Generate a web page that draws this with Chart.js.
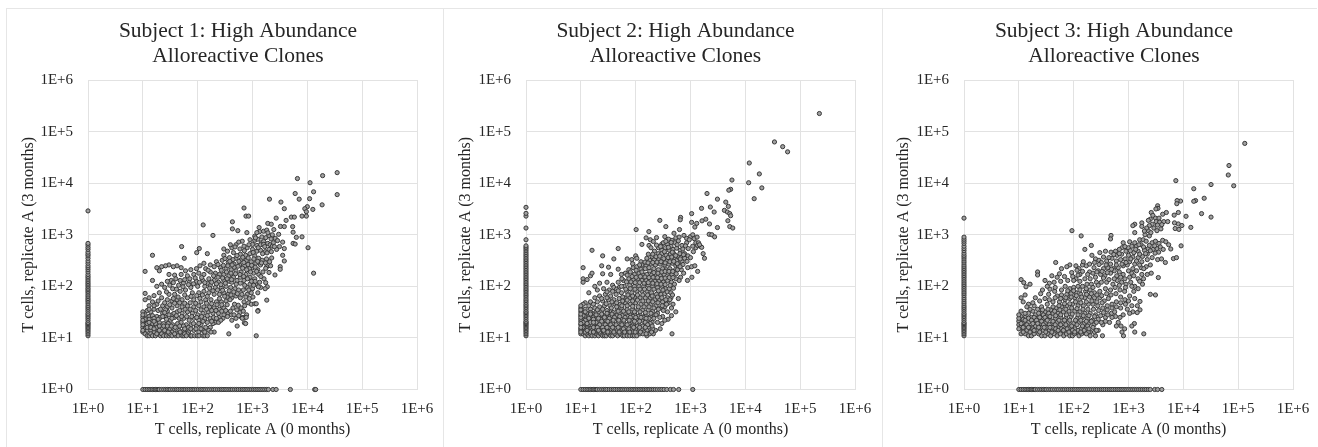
<!DOCTYPE html>
<html>
<head>
<meta charset="utf-8">
<title>High Abundance Alloreactive Clones</title>
<script src="https://cdn.jsdelivr.net/npm/chart.js@4"></script>
<style>
    html, body { margin: 0; padding: 0; background: #fff; overflow: hidden; }
    .panel { position: absolute; top: 8px; height: 439px; box-sizing: border-box; border-left: 1px solid #e6e6e6; border-top: 1px solid #e6e6e6; }
    .panel canvas { position: absolute; left: -1px; top: -1px; }
</style>
</head>
<body>
<div class="panel" style="left:6px;width:437px"><canvas id="subject1" width="450" height="439"></canvas></div>
<div class="panel" style="left:443px;width:439px"><canvas id="subject2" width="450" height="439"></canvas></div>
<div class="panel" style="left:882px;width:435px"><canvas id="subject3" width="450" height="439"></canvas></div>
<script>
const tickValues = [1, 10, 100, 1000, 10000, 100000, 1000000];
const tickLabels = ["1E+0", "1E+1", "1E+2", "1E+3", "1E+4", "1E+5", "1E+6"];
const subjectTitles = ["Subject 1: High Abundance", "Subject 2: High Abundance", "Subject 3: High Abundance"];
const titleSecondLine = "Alloreactive Clones";
const xAxisTitle = "T cells, replicate A (0 months)";
const yAxisTitle = "T cells, replicate A (3 months)";

// clones seen only at 0 months, they sit on the y = 1 line
const subject1Row = [10,11,12,13,14,15,16,17,18,19,20,22,24,26,28,30,32,35,38,41,44,48,52,56,60,65,70,76,82,88,95,103,112,120,130,140,152,165,180,195,210,230,250,270,290,315,340,370,400,430,470,510,550,600,650,700,760,820,890,960,1040,1120,1210,1310,1420,1540,1670,1810,1950,2350,2700,4900,13600,14200];
const subject2Row = [10,11,12,13,14,15,16,17,18,19,20,22,24,26,28,30,33,36,39,42,46,50,54,58,63,68,74,80,86,93,100,108,116,125,135,145,156,168,180,195,210,228,250,275,300,330,370,430,490,610,1100];
const subject3Row = [10,11,12,13,14,15,16,17,18,19,20,22,24,26,28,30,32,35,38,41,45,49,53,58,63,68,74,80,87,94,102,110,120,130,141,153,166,180,195,212,230,250,270,295,320,345,375,410,445,480,520,570,620,670,730,790,860,930,1010,1100,1190,1290,1400,1520,1650,1790,1950,2100,2300,2500,3000,3400,4050];

// clones seen only at 3 months, they sit on the x = 1 line
const subject1Col = [11,12,13,14,15,16,17,18,19,20,22,24,26,28,30,33,36,39,42,46,50,54,58,63,68,74,80,86,92,100,107,115,124,134,145,156,170,190,210,230,250,280,310,350,390,420,460,520,570,630,680,2900];
const subject2Col = [11,12,13,14,15,16,17,18,19,20,21,23,25,27,29,31,33,36,39,42,45,49,53,57,62,67,72,78,84,90,97,105,113,122,132,142,153,165,178,192,207,224,242,261,282,305,330,355,385,415,450,490,530,570,610,800,1350,2300,2600,3400];
const subject3Col = [11,12,13,14,15,16,17,18,19,20,22,24,26,28,30,33,36,39,42,46,50,55,60,66,72,78,85,92,100,108,117,127,138,150,162,176,190,205,222,240,260,285,310,340,370,400,440,490,540,600,680,750,820,900,2100];

// clones seen at both time points [0 months, 3 months]
const subject1Both = [
    [35000,16000],[19000,14000],[6600,12300],[11200,10200],[13000,6800],[6000,6300],[7100,4900],[11000,5000],[35000,6000],[18600,3800],
    [2040,4900],[3300,4300],[3800,3200],[10000,3500],[9000,3200],[12600,3100],[9600,2800],[8000,2300],[9600,2300],[700,3300],
    [760,2300],[850,2300],[2700,2100],[5100,2200],[5800,2200],[4100,1900],[1900,1660],[2200,1600],[126,1550],[430,1780],
    [190,970],[430,1300],[540,1200],[790,1100],[10300,560],[13000,180],[15,400],[51,590],[11,195],[57,350],
    [107,540],[96,450],[150,430],[1170,11],[370,12],[525,17],[710,19.6],[710,25],[630,25],[1260,34],[1820,54],
    [1100,940],[1320,1380],[1350,1150],[1200,1100],[1590,1170],[1820,1230],[2450,1260],[3000,1020],[3240,1450],[3800,1440],[5400,1440],
    [5500,1120],[6300,890],[8000,910],[3550,720],[5500,680],[6000,660],[3100,590],[3800,540],[2750,520],[2240,355],
    [3550,400],[3800,310],[3200,240],[3200,214],[2570,166],[1820,240],[2140,250],[1740,223],[2000,186],[1620,140],
    [1740,118],[1860,98],[1100,780],[1250,820],[1450,700],[1600,740],[1750,880],[2000,960],[2300,1000],[2600,850],
    [1000,650],[1200,620],[1400,640],[1600,650],[1900,680],[2100,640],[2400,700],[900,800],[800,560],[1000,520],
    [1200,480],[1400,500],[1700,470],[2000,520],[2300,600],[650,750],[560,720],[500,640],[700,600],[420,560],
    [300,530],[350,480],[450,450],[600,420],[750,400],[900,430],[1100,390],[1300,350],[1500,320],[1800,340],
    [300,400],[380,360],[500,350],[620,330],[780,320],[950,300],[1150,280],[1400,260],[1000,230],[1250,210],
    [280,320],[220,300],[360,290],[460,270],[580,260],[720,250],[880,220],[1050,180],[1300,170],[1550,190],
    [170,260],[200,240],[260,230],[330,220],[410,210],[500,200],[620,190],[760,170],[900,150],[1100,140],
    [1350,120],[1150,110],[1400,95],[1700,90],[900,110],[1000,90],[1250,75],[700,130],[800,95],[600,150],
    [130,280],[110,250],[95,220],[75,210],[60,200],[50,230],[42,250],[36,240],[30,260],[26,250],[22,240],[18,230],[20,200],
    [140,220],[170,190],[210,180],[250,170],[300,170],[370,160],[450,150],[520,130],[380,125],[300,130],
    [130,170],[105,180],[85,170],[65,160],[50,170],[38,165],[30,170],[33,130],[40,140],[28,125],[22,110],[18,100],[15,130],[25,95],[20,75],[16,66],[13,60],[11,73],[11,55],[13,42],[15,50],
    [240,120],[200,130],[160,140],[125,130],[95,125],[70,120],[55,115],[45,105],[35,90],[75,95],[100,100],[135,100],[170,105],[210,95],[270,95],[330,100],[400,95],[480,90],[560,85],[680,85],[800,70],[950,75],
    [30,70],[38,70],[48,80],[60,85],[80,75],[105,75],[130,80],[160,75],[200,70],[250,70],[300,75],[360,70],[420,60],[500,65],[600,60],[700,50],[850,48],[950,45],[1100,46],[1170,46],[1250,33],
    [22,60],[28,55],[34,52],[42,55],[52,55],[65,60],[85,55],[110,58],[140,55],[175,55],[220,50],[270,50],[330,52],[390,55],[470,45],[550,43],[620,38],[720,42],[780,28],
    [18,45],[23,42],[28,40],[34,38],[42,42],[52,40],[65,42],[85,40],[105,42],[130,40],[165,40],[200,38],[250,36],[300,38],[360,30],[420,22],[410,28],[650,24],[750,19],[770,25],[500,24],
    [12,34],[14,32],[16,36],[19,34],[23,30],[28,33],[34,28],[42,32],[52,30],[65,32],[80,30],[100,28],[125,30],[155,32],[190,30],[240,30],[300,28],[350,26],
    [10,32],[11,28],[13,26],[15,27],[18,26],[21,25],[26,25],[32,22],[38,25],[46,24],[56,24],[70,22],[85,24],[105,22],[135,24],[170,24],[210,20],[240,20],[190,19],[170,16],
    [10,25],[12,22],[14,21],[17,21],[20,20],[24,19],[29,19],[35,18],[43,19],[50,20],[62,18],[76,18],[95,17],[115,18],[140,16],[160,14],[200,13],
    [10,20],[11,18],[13,17],[15,17],[18,16],[22,15],[26,15],[31,15],[37,14],[46,14],[56,14],[68,13],[85,14],[105,13],[125,14],
    [10,16],[11,15],[12,14],[14,14],[16,13],[19,13],[23,13],[28,12],[34,13],[42,12],[52,12],[65,12],
    [10,13],[11,12],[12,11],[13,11],[14,12],[15,11],[17,11],[18,12],[21,11],[22,12],[24,11],[27,11],[30,11],[31,12],[34,11],[40,11],[44,11],[52,11],[56,11],[58,12],[62,11],[74,11],[78,11],[88,11],[98,11],[106,11],[125,11],[135,11],[150,11],
    [1130,870],[1480,905],[1670,590],[1910,1090],[2180,830],[2510,590],[2860,770],[1030,455],[1270,560],[1530,430],[1840,445],[2210,470],[860,640],[710,490],[590,530],[480,580],[395,640],[520,395],[665,365],[835,355],
    [1060,340],[1240,305],[1460,285],[1720,285],[2050,300],[440,330],[565,305],[695,290],[830,265],[965,255],[1120,235],[315,345],[385,305],[465,235],[545,245],[660,225],[780,210],[920,190],[1190,195],[1420,155],
    [235,265],[295,255],[355,250],[425,260],[270,205],[335,190],[405,180],[490,175],[590,170],[690,155],[810,140],[960,125],[1120,125],[1280,98],[1050,105],[855,85],[720,105],[600,115],[505,110],[420,120],
    [155,205],[195,160],[235,150],[285,145],[345,140],[415,135],[180,120],[220,112],[265,108],[320,115],[375,82],[455,78],[530,72],[640,70],[755,62],[880,58],[1020,62],[150,115],[118,148],[90,145],
    [72,140],[58,135],[48,130],[36,118],[31,105],[27,78],[41,88],[54,98],[68,108],[84,112],[108,120],[135,118],[165,92],[190,82],[230,85],[285,84],[345,62],[405,68],[250,58],[310,64],
    [150,64],[122,68],[96,66],[76,64],[58,68],[44,62],[36,58],[25,48],[19,52],[16,42],[13,36],[21,36],[26,35],[31,44],[38,47],[47,48],[58,47],[73,48],[92,47],[115,50],
    [145,47],[180,46],[225,44],[275,44],[345,44],[440,38],[520,35],[590,31],[680,33],[115,35],[92,34],[73,36],[59,36],[47,34],[37,30],[30,28],[25,31],[145,36],[180,34],[215,34],
    [275,33],[325,34],[395,33],[460,28],[560,27],[290,24],[245,25],[195,25],[150,27],[118,26],[96,25],[78,26],[63,26],[51,26],[41,27],[34,24],[27,23],[23,26],[19,23],[16,24],
    [13,23],[11,23],[12,19],[15,19],[17,19],[20,17],[24,17],[28,17],[33,17],[39,16],[47,17],[55,17],[68,16],[84,19],[105,19],[125,21],[150,20],[180,21],[220,24],[265,22],
    [12,16],[14,16],[16,15],[20,14],[25,14],[29,13],[38,12],[48,13],[58,15],[75,15],[93,15],[115,15],[135,13],[175,13],[10,22],[10,18],[10,14],[10,28],[13,20],[16,21]
];
const subject2Both = [
    [224000,224000],[34000,63000],[48000,51000],[59000,40500],[11800,24600],[18000,15100],[20000,8100],[11500,10200],[14500,5000],[5700,11500],
    [5400,7600],[5000,7300],[2000,6300],[3100,4900],[4400,4300],[4900,3550],[2300,3450],[1590,3250],[2700,2760],[4150,2970],
    [4700,2760],[5200,2570],[1050,2570],[5400,2340],[660,2170],[650,1950],[276,1900],[4800,1870],[1900,2000],[1620,1860],
    [2220,1620],[1050,1740],[1300,1660],[1200,1410],[355,1440],[5200,1440],[5900,1350],[3100,1380],[102,1260],[174,1150],
    [630,1260],[500,1070],[2190,1020],[2450,1000],[2750,910],[16,500],[48,540],[25,390],[11,230],[11,140],[11,120],
    [15,160],[16,180],[13,135],[14,75],[24,250],[25,175],[32,235],[35,170],[40,340],[48,215],[70,340],[85,330],[100,390],
    [130,650],[155,870],[185,800],[210,740],[240,880],[175,620],[190,560],[300,660],[260,560],[340,920],[400,820],[460,780],[540,870],[620,900],[760,970],[850,850],[1000,920],
    [320,700],[380,650],[440,600],[520,700],[600,760],[700,620],[850,700],[950,800],[1100,1000],[1250,700],[1400,700],[1500,600],[1250,560],[1600,570],
    [300,500],[350,560],[410,500],[480,520],[560,550],[650,500],[780,430],[900,390],[1000,360],[1700,430],[1800,350],[1100,600],[1350,620],
    [220,480],[260,430],[300,430],[360,400],[430,420],[500,430],[590,380],[680,370],[780,350],[170,420],[200,380],[125,300],[105,350],
    [180,320],[220,330],[260,340],[310,300],[370,320],[440,330],[520,350],[620,300],[700,300],[890,230],[1050,240],[1200,250],[1350,195],[1060,150],[880,130],
    [130,260],[155,250],[190,270],[230,260],[280,270],[340,260],[400,270],[470,280],[540,250],[600,250],[680,210],[750,180],
    [75,210],[90,230],[105,240],[125,215],[150,220],[180,200],[215,220],[260,210],[310,220],[360,210],[420,220],[500,200],[580,210],[660,150],[620,130],
    [55,170],[65,180],[80,190],[95,170],[115,180],[135,170],[160,170],[195,165],[235,170],[280,160],[330,170],[390,180],[460,170],[540,140],
    [22,115],[30,120],[38,105],[48,120],[60,130],[75,140],[90,135],[110,140],[130,130],[155,130],[185,135],[225,125],[270,130],[320,120],[380,130],[450,120],[510,110],
    [18,100],[20,85],[26,90],[33,85],[40,95],[50,95],[62,100],[78,105],[95,100],[115,100],[140,100],[170,105],[205,100],[250,95],[300,100],[350,90],[410,90],[440,60],
    [15,50],[12,48],[18,60],[22,65],[28,70],[35,65],[44,70],[55,75],[68,80],[85,75],[105,80],[130,80],[160,80],[195,75],[240,70],[290,70],[340,72],[380,60],
    [11,45],[14,42],[17,45],[20,50],[25,52],[32,55],[40,55],[50,58],[62,60],[78,60],[95,62],[120,60],[150,60],[185,60],[225,55],[270,55],[310,50],[420,55],[480,45],[390,47],[340,40],[600,58],
    [10,38],[12,36],[15,36],[18,38],[22,40],[27,42],[34,42],[42,45],[52,45],[65,48],[80,45],[100,48],[125,45],[155,45],[190,45],[235,42],[280,38],[450,38],[380,32],[540,32],
    [10,32],[11,30],[13,30],[16,30],[19,32],[24,33],[30,34],[36,33],[46,36],[56,38],[70,36],[88,36],[110,36],[135,35],[170,35],[205,33],[250,30],[310,26],
    [10,27],[12,26],[14,26],[17,25],[21,27],[26,27],[32,27],[40,28],[50,30],[62,30],[78,29],[96,29],[120,28],[150,28],[185,26],[220,27],[300,19],[390,23],[340,22],[450,27],
    [11,24],[13,22],[15,22],[18,21],[23,23],[29,22],[35,23],[44,24],[55,24],[68,24],[85,23],[105,23],[130,22],[165,22],[200,20],[250,20],
    [10,21],[12,19],[14,18],[16,18],[20,19],[25,19],[31,19],[38,19],[48,20],[60,20],[75,19],[92,19],[115,18],[145,18],[170,16],[230,14],[280,15],[190,13],
    [10,18],[11,17],[13,16],[15,15],[18,16],[22,16],[27,16],[33,16],[42,16],[52,16],[65,16],[82,15],[100,15],[130,15],[160,14],[205,15],
    [10,15],[11,14],[12,14],[14,13],[16,14],[19,14],[24,14],[29,14],[36,14],[45,13],[56,14],[70,13],[88,13],[110,13],[140,13],[180,12],[210,12],
    [10,12],[11,12],[12,11],[13,12],[14,11],[15,12],[16,11],[18,11],[19,12],[21,11],[23,12],[25,11],[27,11],[29,11],[32,12],[35,11],[38,11],[42,12],[47,11],[52,12],[58,11],[62,11],[70,11],[78,11],[88,11],[95,11],[105,11],[120,12],[135,12],[160,11],[460,12],
    [355,745],[445,710],[570,640],[725,530],[810,610],[1170,840],[1320,900],[1460,640],[1130,470],[910,540],[240,630],[205,420],[285,590],[335,470],[395,570],[465,460],[535,395],[640,430],[745,410],[865,305],
    [160,350],[235,375],[275,385],[325,345],[390,360],[455,370],[555,315],[650,340],[730,265],[148,295],[118,260],[168,285],[205,290],[245,295],[290,300],[345,285],[420,300],[495,305],[575,275],[645,240],
    [88,275],[102,205],[130,190],[175,230],[215,185],[255,180],[300,190],[345,195],[405,195],[475,195],[550,175],[70,165],[86,155],[102,150],[122,155],[148,152],[175,148],[208,150],[250,148],[295,142],
    [345,145],[410,148],[480,148],[56,140],[68,122],[82,122],[98,118],[118,118],[142,115],[170,118],[205,115],[245,112],[290,110],[345,108],[425,105],[490,92],[45,88],[55,100],[66,88],[80,90],
    [97,88],[120,88],[145,88],[175,90],[215,88],[260,82],[315,85],[375,78],[440,75],[30,78],[38,80],[48,82],[58,62],[72,68],[88,65],[108,68],[135,68],[165,68],[200,65],[250,62],
    [300,60],[355,55],[470,68],[24,58],[30,60],[37,50],[45,48],[58,52],[70,54],[88,52],[108,54],[135,52],[170,52],[205,50],[255,48],[305,42],[365,45],[29,46],[36,38],[45,40],[56,42],
    [70,42],[88,41],[112,40],[142,40],[175,40],[215,38],[260,36],[320,34],[15,31],[20,35],[25,36],[31,30],[39,31],[48,33],[60,33],[75,32],[95,32],[120,32],[150,31],[190,30],[235,28],[275,25],
    [12,32],[15,29],[19,28],[24,29],[30,30],[37,29],[45,27],[57,27],[72,26],[90,26],[112,26],[140,25],[175,24],[215,24],[11,27],[14,24],[17,23],[21,24],[27,25],[33,24],[41,25],[51,26],[64,25],[80,25],
    [100,25],[125,25],[155,24],[12,22],[15,20],[19,20],[24,21],[31,21],[39,22],[49,22],[61,22],[76,22],[95,21],[118,21],[150,20],[185,19],[11,20],[13,19],[17,20],[22,18],[28,18],[35,18],[44,18],[56,18],
    [70,18],[88,17],[108,17],[135,17],[165,18],[11,16],[13,15],[17,16],[20,16],[25,16],[30,16],[38,16],[48,16],[60,15],[75,15],[92,16],[118,16],[150,16],[200,17],[10,14],[12,13],[15,13],[18,13],[22,13],[27,13],
    [33,13],[40,13],[50,13],[63,13],[78,13],[98,13],[122,13],[155,12],[195,13],[13,14],[17,13],[21,14],[26,14],[31,13],[10,23],[10,25],[10,29],[10,35],[10,42],[10,19],[10,16],[10,13]
];
const subject3Both = [
    [132000,59000],[68000,22000],[66000,14400],[83000,8900],[32000,9400],[7300,11200],[15500,7800],[24000,5100],[16700,4600],[15500,4450],
    [8900,4500],[7700,4600],[7600,4000],[21500,2570],[32000,2200],[11200,2280],[13700,1390],[8100,2700],[6800,2400],[6900,1700],
    [8100,1620],[9400,1510],[7100,1320],[8300,1270],[9100,610],[6600,345],[7500,360],[93,1200],[137,950],[480,970],
    [470,830],[3400,3650],[3450,3250],[3160,3160],[1900,12],[1300,13],[810,11],[850,15],[760,13],[335,11],[250,11],
    [3100,68],[2500,70],[3500,148],[1280,19],[1150,17],[1620,35],[1440,31],[1620,51],[47,290],
    [11,135],[12.3,118],[13.5,98],[16,110],[22,190],[22,166],[11,60],[13,68],[12,50],[15,45],[19,42],
    [2600,2700],[3100,2100],[3600,2100],[4200,2500],[4900,2700],[2500,2000],[2300,1900],[2700,1600],[3200,1800],[3700,1750],[4400,1800],[5200,1800],[2400,1500],[2900,1350],[3300,1200],[3900,1300],
    [2300,1200],[2000,1000],[2400,950],[1300,1600],[1200,1500],[1750,1700],[1750,1450],[1300,1100],[1050,730],[1300,700],[1600,800],[1850,800],[800,700],[760,560],[1000,560],[1150,600],
    [1400,600],[1700,640],[2100,750],[2700,700],[3100,750],[3600,680],[4200,780],[4800,730],[5400,640],[5900,530],[3300,540],[3800,580],[2800,520],[2300,540],[1950,500],[1500,480],[1250,450],[900,480],
    [680,520],[580,480],[480,460],[380,480],[300,450],[620,400],[750,420],[1000,400],[1200,370],[1500,360],[1800,380],[2200,420],[2700,360],[3400,330],[4000,340],[4700,290],[2500,260],[2100,240],[1700,230],
    [160,520],[210,620],[215,400],[250,340],[290,320],[500,350],[400,310],[320,290],[600,310],[720,330],[870,340],[1050,300],[1300,270],[1600,260],[1900,220],[2200,170],[1750,170],[2600,180],
    [85,260],[110,250],[125,220],[75,240],[60,220],[130,170],[110,140],[145,260],[170,250],[195,190],[235,230],[280,200],[350,220],[420,230],[530,220],[650,230],[800,250],[950,260],[1200,220],[1400,200],
    [30,130],[36,115],[44,120],[50,150],[55,175],[40,160],[33,100],[27,85],[45,80],[100,130],[130,125],[160,140],[200,140],[250,150],[310,170],[370,160],[470,180],[550,200],[680,190],[800,170],[1000,200],[1150,180],
    [70,100],[85,90],[100,95],[120,100],[145,100],[175,110],[210,110],[260,120],[320,120],[400,120],[520,110],[620,130],[750,120],[900,110],[1100,120],[1300,100],[1500,90],[1800,110],[1250,80],
    [35,70],[50,65],[60,68],[75,70],[90,72],[110,75],[135,70],[165,80],[200,85],[240,75],[300,80],[380,90],[470,85],[570,95],[700,85],[850,80],[1050,65],[1300,58],
    [20,60],[24,52],[18,48],[26,40],[33,45],[42,50],[55,50],[70,55],[85,58],[105,60],[130,55],[160,60],[195,62],[240,60],[300,60],[360,52],[430,58],[500,45],[600,50],[720,38],[950,36],[1200,32],[1050,30],
    [14,40],[22,36],[30,32],[38,35],[48,38],[60,40],[75,42],[95,45],[120,42],[150,42],[185,45],[225,45],[275,42],[340,38],[410,35],[490,30],[580,26],[700,25],[800,28],[650,20],[600,17],[730,17],
    [11,33],[15,30],[20,28],[26,30],[33,27],[42,30],[52,30],[65,32],[82,33],[105,33],[130,32],[160,30],[200,30],[250,28],[310,27],[380,25],[450,20],
    [11,26],[13,25],[17,25],[22,24],[28,23],[36,24],[46,24],[58,25],[72,24],[90,26],[115,24],[145,25],[180,24],[220,22],[280,23],[340,18],
    [10,21],[12,20],[15,20],[19,21],[24,19],[31,20],[40,19],[50,20],[63,19],[80,20],[100,19],[125,20],[155,19],[190,19],[235,18],[280,14],
    [10,18],[11,17],[13,17],[16,16],[20,17],[26,16],[33,16],[42,16],[54,16],[68,15],[85,16],[105,15],[135,15],[165,15],[200,13],[240,13],[260,14],
    [10,15],[12,14],[14,14],[17,14],[22,14],[28,14],[36,14],[46,13],[58,13],[72,13],[92,13],[115,13],[150,13],[185,13],
    [11,12],[13,12],[15,11],[17,11],[19,12],[23,12],[26,11],[30,11],[34,12],[38,11],[44,12],[50,11],[57,12],[66,11],[74,12],[85,11],[95,11],[104,12],[125,11],[140,12],[170,12],[200,11],
    [2150,1350],[2780,2380],[3380,1540],[4050,1570],[1950,1180],[2560,1100],[1550,640],[1880,580],[2400,620],[3000,610],[3550,460],[4300,520],[2050,430],[2500,490],[3050,440],[1600,420],[1350,520],[1080,490],[860,590],[680,430],
    [540,415],[440,360],[350,370],[1100,340],[1400,310],[1750,300],[2200,330],[900,290],[760,270],[600,260],[470,270],[390,260],[290,265],[240,290],[195,270],[150,300],[115,205],[92,185],[68,155],[58,125],
    [78,130],[96,155],[120,165],[145,195],[180,170],[225,180],[265,190],[330,195],[410,185],[490,215],[610,160],[720,150],[860,140],[1050,150],[1250,160],[1500,140],[1880,140],[1600,125],[1150,100],[880,95],
    [680,105],[550,140],[440,135],[350,145],[280,105],[225,95],[170,90],[130,85],[100,82],[78,82],[60,85],[46,95],[37,88],[25,72],[30,58],[36,55],[46,60],[58,58],[72,60],[90,62],
    [112,66],[140,62],[172,70],[210,72],[265,68],[325,66],[400,72],[480,68],[590,72],[720,62],[860,55],[1000,52],[1450,42],[1150,42],[880,45],[720,48],[600,40],[500,38],[410,42],[330,48],
    [265,50],[215,52],[170,50],[135,48],[108,50],[85,46],[68,46],[54,42],[42,40],[34,36],[27,35],[23,30],[18,33],[16,36],[13,30],[28,28],[35,30],[45,33],[56,35],[72,36],
    [92,38],[115,37],[148,36],[182,36],[230,36],[285,34],[350,31],[420,28],[500,25],[560,32],[240,26],[190,27],[150,27],[120,28],[94,29],[74,28],[58,28],[47,27],[37,26],[30,25],
    [24,25],[19,25],[15,24],[12,23],[13,22],[17,22],[21,22],[26,21],[33,22],[42,21],[54,22],[68,22],[85,22],[108,22],[135,22],[170,21],[210,21],[260,20],[320,20],[380,21],
    [11,19],[14,18],[18,19],[22,19],[28,18],[36,18],[46,18],[58,18],[72,18],[92,17],[115,18],[145,17],[180,17],[225,16],[12,16],[15,16],[18,15],[23,16],[29,16],[37,16],
    [47,15],[60,15],[76,15],[95,14],[120,14],[155,14],[190,15],[12,13],[16,13],[19,14],[24,13],[31,13],[40,13],[52,14],[65,14],[82,13],[105,13],[135,13],[10,24],[10,28]
];

const subjectData = [
    { both: subject1Both, row: subject1Row, col: subject1Col },
    { both: subject2Both, row: subject2Row, col: subject2Col },
    { both: subject3Both, row: subject3Row, col: subject3Col },
];

// plot left, plot right and y title offset for every panel, in canvas pixels
const panelLayout = [
    { id: "subject1", plotLeft: 82, plotRight: 411, yTitlePad: 13 },
    { id: "subject2", plotLeft: 83, plotRight: 412, yTitlePad: 13 },
    { id: "subject3", plotLeft: 82, plotRight: 411, yTitlePad: 12 },
];

const serif = "'Liberation Serif', 'Times New Roman', serif";
const textColor = "#262626";
const gridColor = "#e2e2e2";

function decadeAxis(title, titlePadding, tickPadding) {
    return {
        type: "logarithmic",
        min: 1,
        max: 1000000,
        afterBuildTicks: (scale) => {
            scale.ticks = tickValues.map((v) => ({ value: v, major: true }));
        },
        grid: { color: gridColor, lineWidth: 1, drawTicks: false },
        border: { color: gridColor },
        ticks: {
            autoSkip: false,
            maxRotation: 0,
            padding: tickPadding,
            color: textColor,
            font: { family: serif, size: 15 },
            callback: (value) => tickLabels[tickValues.indexOf(value)],
        },
        title: {
            display: true,
            text: title,
            color: textColor,
            padding: titlePadding,
            font: { family: serif, size: 16 },
        },
    };
}

// title is centred a bit right of the plot box's left half, same as the original
const titleOffset = {
    id: "titleOffset",
    afterLayout(chart) {
        chart.titleBlock.left = 53;
    },
};

subjectData.forEach((subject, i) => {
    const box = panelLayout[i];
    const points = subject.both
        .map((p) => ({ x: p[0], y: p[1] }))
        .concat(subject.row.map((v) => ({ x: v, y: 1 })))
        .concat(subject.col.map((v) => ({ x: 1, y: v })));

    const canvas = document.getElementById(box.id);
    const xAxis = decadeAxis(xAxisTitle, { top: 0, bottom: 8 }, 11);
    xAxis.afterFit = (scale) => { scale.height = 57.5; };
    const yAxis = decadeAxis(yAxisTitle, { top: box.yTitlePad, bottom: 0 }, 15);
    yAxis.afterFit = (scale) => { scale.width = box.plotLeft; };

    new Chart(canvas.getContext("2d"), {
        type: "scatter",
        data: {
            datasets: [{
                label: subjectTitles[i],
                data: points,
                clip: false,
                pointRadius: 2.1,
                pointBorderWidth: 1,
                pointBackgroundColor: "#a0a0a0",
                pointBorderColor: "#383838",
            }],
        },
        options: {
            responsive: false,
            animation: false,
            layout: { padding: { left: 0, right: canvas.width - box.plotRight, top: 0, bottom: 0 } },
            scales: { x: xAxis, y: yAxis },
            plugins: {
                legend: { display: false },
                tooltip: { enabled: false },
                title: {
                    display: true,
                    text: [subjectTitles[i], titleSecondLine],
                    color: textColor,
                    font: { family: serif, size: 21.5, weight: "normal", lineHeight: 1.163 },
                    padding: { top: 11, bottom: 11 },
                },
            },
        },
        plugins: [titleOffset],
    });
});
</script>
</body>
</html>
